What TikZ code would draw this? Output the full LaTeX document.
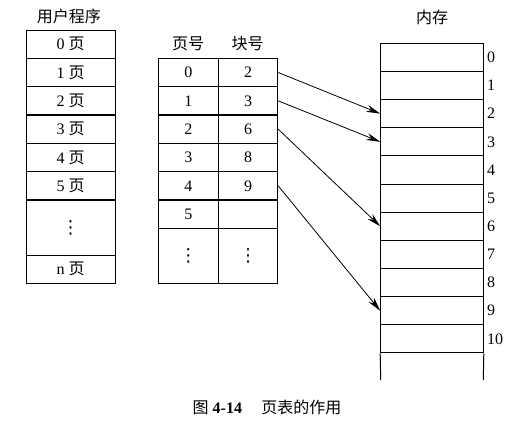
\documentclass[tikz,border=0pt]{standalone}
\usepackage{fontspec}
\setmainfont{Liberation Serif}
\newfontfamily\cjk{Noto Sans CJK SC}
\newfontfamily\dvfont{DejaVu Sans}
\usetikzlibrary{arrows.meta}
\begin{document}
\begin{tikzpicture}[x=1pt,y=-1pt,
  txt/.style={font=\fontsize{16}{16}\selectfont, inner sep=0pt},
  cellbox/.style={draw, line width=1pt, inner sep=0pt, minimum height=28.33pt, font=\fontsize{16}{16}\selectfont},
  lcell/.style={cellbox, minimum width=89pt},
  pcell/.style={cellbox, minimum width=60pt},
  bcell/.style={cellbox, minimum width=59.4pt},
  mcell/.style={cellbox, minimum width=102.6pt, minimum height=28.15pt},
  dotsbox/.style={font=\dvfont\fontsize{18}{18}\selectfont},
  arr/.style={line width=0.8pt, -{Stealth[length=14pt,width=7pt]}}]
\useasboundingbox (0,0) rectangle (523,423);
% user program
\node[txt] (utitle) at (69,16) {{\cjk 用户程序}};
\node[lcell] (p0) at (70.5,44.17) {0 {\cjk 页}};
\node[lcell] (p1) at (70.5,72.5) {1 {\cjk 页}};
\node[lcell] (p2) at (70.5,100.83) {2 {\cjk 页}};
\node[lcell] (p3) at (70.5,129.17) {3 {\cjk 页}};
\node[lcell] (p4) at (70.5,157.5) {4 {\cjk 页}};
\node[lcell] (p5) at (70.5,185.83) {5 {\cjk 页}};
\node[lcell, minimum height=55pt, dotsbox] (pd) at (70.5,227.5) {⋮};
\node[lcell] (pn) at (70.5,269.17) {n {\cjk 页}};
% page table
\node[txt] (ph) at (188,44) {{\cjk 页号}};
\node[txt] (bh) at (247.5,44) {{\cjk 块号}};
\node[pcell] (t0) at (188.3,72.5) {0};
\node[pcell] (t1) at (188.3,100.83) {1};
\node[pcell] (t2) at (188.3,129.17) {2};
\node[pcell] (t3) at (188.3,157.5) {3};
\node[pcell] (t4) at (188.3,185.83) {4};
\node[pcell] (t5) at (188.3,214.17) {5};
\node[pcell, minimum height=54.7pt, dotsbox] (td) at (188.3,255.65) {⋮};
\node[bcell] (b0) at (248,72.5) {2};
\node[bcell] (b1) at (248,100.83) {3};
\node[bcell] (b2) at (248,129.17) {6};
\node[bcell] (b3) at (248,157.5) {8};
\node[bcell] (b4) at (248,185.83) {9};
\node[bcell] (b5) at (248,214.17) {};
\node[bcell, minimum height=54.7pt, dotsbox] (bd) at (248,255.65) {⋮};
% memory
\node[txt] (mtitle) at (432,17) {{\cjk 内存}};
\foreach \i in {0,...,10} {
  \node[mcell] (m\i) at (432,{57.375+\i*28.15}) {};
  \node[txt, anchor=west] (ml\i) at (487,{57.375+\i*28.15}) {\i};
}
\coordinate (mbl) at (380.7,380);
\coordinate (mbr) at (483.3,380);
\draw[line width=1pt] (m10.south west) -- (mbl);
\draw[line width=1pt] (m10.south east) -- (mbr);
% arrows
\draw[arr] (b0.east) -- (m2.west);
\draw[arr] (b1.east) -- (m3.west);
\draw[arr] (b2.east) -- (m6.west);
\draw[arr] (b4.east) -- (m9.west);
% caption
\node[txt] (cap) at (267,407) {{\cjk 图} \textbf{4-14}\hspace{1.2em}{\cjk 页表的作用}};
\end{tikzpicture}
\end{document}
